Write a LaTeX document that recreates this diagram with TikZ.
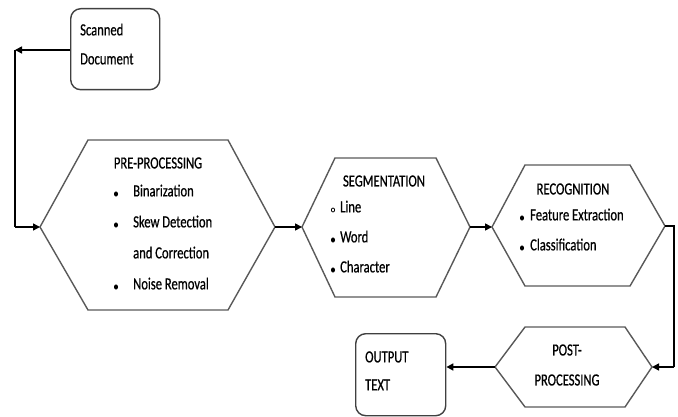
\documentclass[tikz,border=0pt]{standalone}
\usepackage{fontspec}
\setmainfont[FakeStretch=0.74,FakeBold=0.6]{Carlito}
\usetikzlibrary{arrows.meta}
\begin{document}
\begin{tikzpicture}[x=1pt,y=-1pt,
  shapeline/.style={draw=black!65,line width=1.4pt,line join=miter},
  boxline/.style={draw=black!75,line width=1.4pt,rounded corners=10pt},
  conn/.style={draw=black,line width=1.6pt,-{Triangle[length=7pt,width=7pt]}},
  plain/.style={draw=black,line width=1.6pt},
  lbl/.style={font=\fontsize{17}{20}\selectfont,inner sep=0pt,text=black},
  bul/.style={fill=black}]
\useasboundingbox (0,0) rectangle (678,417);

% Scanned document box
\node[boxline,minimum width=89pt,minimum height=81pt,anchor=north west] (scan) at (70,8) {};
\node[lbl,anchor=mid west] (scan1) at (80,33) {Scanned};
\node[lbl,anchor=mid west] (scan2) at (80,62) {Document};

% Pre-processing hexagon
\coordinate (preL) at (40,227);
\coordinate (preR) at (275,227);
\draw[shapeline] (preL) -- (88,140) -- (228,140) -- (preR) -- (228,310) -- (88,310) -- cycle;
\node[lbl] (pret) at (158,163) {PRE-PROCESSING};
\fill[bul] (116,194) ellipse (2pt and 2.6pt);
\fill[bul] (116,225) ellipse (2pt and 2.6pt);
\fill[bul] (116,287) ellipse (2pt and 2.6pt);
\node[lbl,anchor=mid west] (pre1) at (133,194) {Binarization};
\node[lbl,anchor=mid west] (pre2) at (133,225) {Skew Detection};
\node[lbl,anchor=mid west] (pre3) at (133,256) {and Correction};
\node[lbl,anchor=mid west] (pre4) at (133,287) {Noise Removal};

% Segmentation hexagon
\coordinate (segL) at (302,227);
\coordinate (segR) at (470,227);
\draw[shapeline] (segL) -- (335,158) -- (436,158) -- (segR) -- (436,297) -- (335,297) -- cycle;
\node[lbl] (segt) at (384,181) {SEGMENTATION};
\draw[black,line width=0.8pt] (333,210) ellipse (1.6pt and 2pt);
\fill[bul] (333,240) ellipse (2pt and 2.6pt);
\fill[bul] (333,270) ellipse (2pt and 2.6pt);
\node[lbl,anchor=mid west] (seg1) at (340,210) {Line};
\node[lbl,anchor=mid west] (seg2) at (340,240) {Word};
\node[lbl,anchor=mid west] (seg3) at (340,270) {Character};

% Recognition hexagon
\coordinate (recL) at (492,227);
\coordinate (recR) at (665,226);
\draw[shapeline] (recL) -- (525,165) -- (630,165) -- (recR) -- (630,286) -- (525,286) -- cycle;
\node[lbl] (rect) at (573,189) {RECOGNITION};
\fill[bul] (522,218) ellipse (2pt and 2.6pt);
\fill[bul] (522,248) ellipse (2pt and 2.6pt);
\node[lbl,anchor=mid west] (rec1) at (530,218) {Feature Extraction};
\node[lbl,anchor=mid west] (rec2) at (530,248) {Classification};

% Post-processing hexagon
\coordinate (postL) at (495,367);
\coordinate (postR) at (652,367);
\draw[shapeline] (postL) -- (525,327) -- (625,327) -- (postR) -- (625,407) -- (525,407) -- cycle;
\node[lbl] (post1) at (567,350) {POST-};
\node[lbl] (post2) at (567,380) {PROCESSING};

% Output box
\node[boxline,minimum width=90pt,minimum height=82pt,anchor=north west] (out) at (355,333) {};
\node[lbl,anchor=mid west] (out1) at (365,360) {OUTPUT};
\node[lbl,anchor=mid west] (out2) at (365,388) {TEXT};

% Connectors
\coordinate (cornerA) at (15,50);
\coordinate (cornerD) at (15,227);
\draw[conn] (scan.west |- cornerA) -- (cornerA);
\draw[plain] (cornerA) -- (cornerD);
\draw[conn] (cornerD) -- (preL);
\draw[conn] (preR) -- (segL);
\draw[conn] (segR) -- (recL);
\coordinate (cornerB) at (674,226);
\coordinate (cornerC) at (674,367);
\draw[plain] (recR) -- (cornerB) -- (cornerC);
\draw[conn] (cornerC) -- (postR);
\draw[conn] (postL) -- (out.east |- postL);
\end{tikzpicture}
\end{document}
